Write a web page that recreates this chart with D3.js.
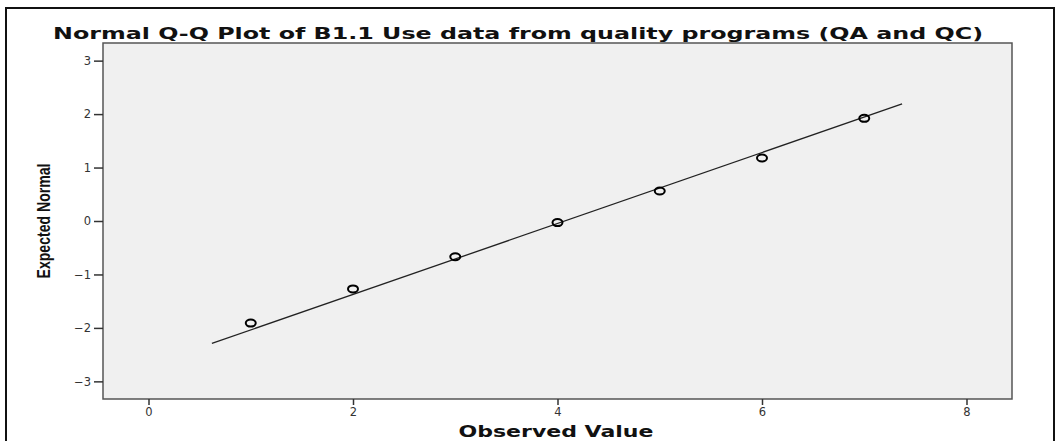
<!DOCTYPE html>
<html>
<head>
<meta charset="utf-8">
<script src="https://cdn.jsdelivr.net/npm/d3@7"></script>
<style>
  html, body { margin: 0; padding: 0; background: #fff; }
  svg { display: block; }
</style>
</head>
<body>
<script>
(function (d3) {
  "use strict";

  /***** Data *****/
  var observed = [1, 2, 3, 4, 5, 6, 7];
  var expected = [-1.91, -1.27, -0.67, -0.03, 0.56, 1.18, 1.92];
  // reference line end points (observed, expected)
  var lineObserved = [0.62, 7.37];
  var lineExpected = [-2.29, 2.19];
  var xTicks = [0, 2, 4, 6, 8];
  var yTicks = [-3, -2, -1, 0, 1, 2, 3];

  /***** Layout *****/
  var width = 1060, height = 441;
  var plot = { left: 103, top: 43, right: 1012, bottom: 399 };

  var svg = d3.select("body").append("svg")
      .attr("width", width)
      .attr("height", height);

  // outer frame
  svg.append("rect")
      .attr("x", 6).attr("y", 8)
      .attr("width", 1048).attr("height", 440)
      .attr("fill", "#fff")
      .attr("stroke", "#111")
      .attr("stroke-width", 2);

  /***** Scales *****/
  var x = d3.scaleLinear().domain([-0.445, 8.445]).range([plot.left, plot.right]);
  var y = d3.scaleLinear().domain([-3.33, 3.33]).range([plot.bottom, plot.top]);

  svg.append("rect")
      .attr("x", plot.left).attr("y", plot.top)
      .attr("width", plot.right - plot.left)
      .attr("height", plot.bottom - plot.top)
      .attr("fill", "#f0f0f0")
      .attr("stroke", "#555")
      .attr("stroke-width", 1.5);

  /***** Axes *****/
  var fmt = function (d) { return d < 0 ? "\u2212" + Math.abs(d) : String(d); };

  var xAxis = svg.append("g")
      .attr("transform", "translate(0," + plot.bottom + ")")
      .call(d3.axisBottom(x).tickValues(xTicks).tickFormat(fmt).tickSizeOuter(0).tickSize(6).tickPadding(3));
  var yAxis = svg.append("g")
      .attr("transform", "translate(" + plot.left + ",0)")
      .call(d3.axisLeft(y).tickValues(yTicks).tickFormat(fmt).tickSizeOuter(0).tickSize(9).tickPadding(3));

  [xAxis, yAxis].forEach(function (g) {
    g.select(".domain").remove();
    g.selectAll(".tick line").attr("stroke", "#333").attr("stroke-width", 1.5);
    g.selectAll(".tick text")
        .attr("fill", "#333")
        .style("font-family", "'DejaVu Sans', Verdana, sans-serif")
        .style("font-size", "11.5px");
  });

  /***** Reference line *****/
  svg.append("line")
      .attr("x1", x(lineObserved[0])).attr("y1", y(lineExpected[0]))
      .attr("x2", x(lineObserved[1])).attr("y2", y(lineExpected[1]))
      .attr("stroke", "#222")
      .attr("stroke-width", 1.3);

  /***** Points *****/
  svg.append("g").selectAll("ellipse")
      .data(observed)
      .join("ellipse")
      .attr("cx", function (d) { return x(d); })
      .attr("cy", function (d, i) { return y(expected[i]); })
      .attr("rx", 5)
      .attr("ry", 3.5)
      .attr("fill", "none")
      .attr("stroke", "#000")
      .attr("stroke-width", 2);

  /***** Texts *****/
  svg.append("text")
      .attr("x", 518).attr("y", 39)
      .attr("text-anchor", "middle")
      .attr("textLength", 930)
      .attr("lengthAdjust", "spacingAndGlyphs")
      .style("font-family", "'DejaVu Sans', Verdana, sans-serif")
      .style("font-weight", "bold")
      .style("font-size", "16px")
      .attr("fill", "#111")
      .text("Normal Q-Q Plot of B1.1 Use data from quality programs (QA and QC)");

  svg.append("text")
      .attr("x", 556).attr("y", 437)
      .attr("text-anchor", "middle")
      .attr("textLength", 195)
      .attr("lengthAdjust", "spacingAndGlyphs")
      .style("font-family", "'DejaVu Sans', Verdana, sans-serif")
      .style("font-weight", "bold")
      .style("font-size", "15px")
      .attr("fill", "#111")
      .text("Observed Value");

  svg.append("text")
      .attr("transform", "translate(50,221) rotate(-90)")
      .attr("text-anchor", "middle")
      .attr("textLength", 115)
      .attr("lengthAdjust", "spacingAndGlyphs")
      .style("font-family", "'Liberation Sans Narrow', 'Liberation Sans', Arial, sans-serif")
      .style("font-weight", "bold")
      .style("font-size", "18px")
      .attr("fill", "#111")
      .text("Expected Normal");

})(d3);
</script>
</body>
</html>
